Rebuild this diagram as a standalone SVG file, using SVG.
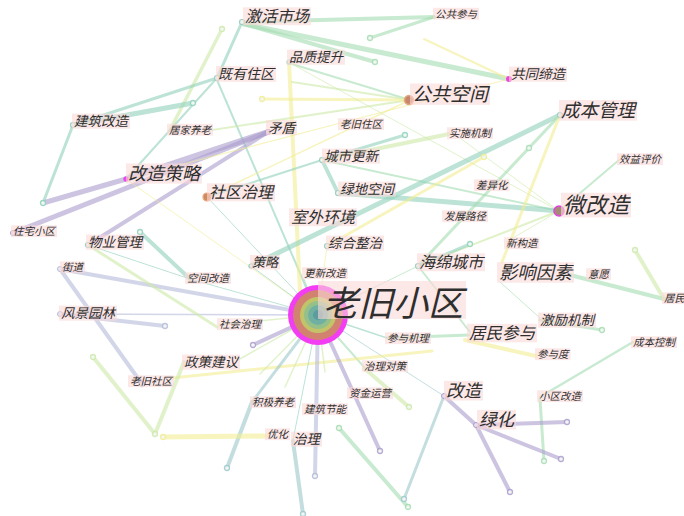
<svg xmlns="http://www.w3.org/2000/svg" width="684" height="516" viewBox="0 0 684 516">
<style>
.e{fill:none;stroke-linecap:round;stroke-opacity:.6}
.t{stroke:#8fd1bb}.g{stroke:#a4dcb0}.lg{stroke:#cde9a8}.y{stroke:#f1ec93}.p{stroke:#aa9ccd}.b{stroke:#b4bad8}.tb{stroke:#9cc8cc}
.ec{fill:#f2f7f4;stroke-width:1.3;stroke-opacity:.85}
.lb{fill:#fcd8d8;fill-opacity:.6}
.tx{font-family:"Noto Sans CJK SC","Noto Sans CJK JP",sans-serif;font-style:italic;fill:#2e2e2e}
.nd{fill:#eef6f2;stroke:#9fcfc0;stroke-width:1.2}
</style>
<rect width="684" height="516" fill="#ffffff"/>
<g id="edges">
<line class="e g" x1="242" y1="22" x2="434" y2="17" stroke-width="4"/>
<line class="e g" x1="244" y1="24" x2="509" y2="79" stroke-width="5"/>
<line class="e g" x1="244" y1="24" x2="375" y2="62" stroke-width="4"/>
<line class="e g" x1="434" y1="17" x2="370" y2="38" stroke-width="3"/>
<line class="e y" x1="509" y1="79" x2="424" y2="39" stroke-width="2"/>
<line class="e t" x1="242" y1="22" x2="217" y2="78" stroke-width="3"/>
<line class="e lg" x1="222" y1="29" x2="170" y2="130" stroke-width="3.5"/>
<line class="e t" x1="217" y1="78" x2="73" y2="125" stroke-width="3"/>
<line class="e t" x1="73" y1="125" x2="193" y2="103" stroke-width="5"/>
<line class="e t" x1="217" y1="78" x2="126" y2="179" stroke-width="2"/>
<line class="e t" x1="217" y1="80" x2="318" y2="315" stroke-width="2"/>
<line class="e t" x1="73" y1="125" x2="43" y2="203" stroke-width="3"/>
<line class="e p" x1="43" y1="203" x2="126" y2="179" stroke-width="5"/>
<line class="e p" x1="126" y1="179" x2="268" y2="132" stroke-width="6"/>
<line class="e p" x1="13" y1="233" x2="268" y2="132" stroke-width="5"/>
<line class="e p" x1="88" y1="245" x2="268" y2="132" stroke-width="4"/>
<line class="e lg" x1="212" y1="130" x2="410" y2="100" stroke-width="2"/>
<line class="e y" x1="289" y1="62" x2="300" y2="292" stroke-width="4"/>
<line class="e g" x1="292" y1="64" x2="410" y2="100" stroke-width="2"/>
<line class="e lg" x1="292" y1="82" x2="410" y2="100" stroke-width="2"/>
<line class="e y" x1="262" y1="99" x2="410" y2="100" stroke-width="3"/>
<line class="e y" x1="126" y1="179" x2="509" y2="79" stroke-width="1.2"/>
<line class="e y" x1="207" y1="197" x2="410" y2="100" stroke-width="1.5"/>
<line class="e lg" x1="292" y1="64" x2="559" y2="211" stroke-width="1"/>
<line class="e t" x1="322" y1="160" x2="405" y2="135" stroke-width="3"/>
<line class="e lg" x1="322" y1="160" x2="449" y2="134" stroke-width="4"/>
<line class="e t" x1="322" y1="160" x2="207" y2="197" stroke-width="2"/>
<line class="e t" x1="322" y1="160" x2="338" y2="193" stroke-width="4"/>
<line class="e g" x1="322" y1="160" x2="559" y2="211" stroke-width="2"/>
<line class="e t" x1="338" y1="193" x2="559" y2="211" stroke-width="5"/>
<line class="e lg" x1="460" y1="138" x2="559" y2="211" stroke-width="1"/>
<line class="e g" x1="619" y1="160" x2="559" y2="211" stroke-width="2"/>
<line class="e lg" x1="418" y1="266" x2="559" y2="211" stroke-width="2"/>
<line class="e y" x1="327" y1="246" x2="484" y2="157" stroke-width="3"/>
<line class="e t" x1="251" y1="266" x2="560" y2="115" stroke-width="5"/>
<line class="e g" x1="560" y1="115" x2="418" y2="266" stroke-width="3"/>
<line class="e y" x1="560" y1="115" x2="502" y2="262" stroke-width="3"/>
<line class="e lg" x1="506" y1="242" x2="559" y2="211" stroke-width="1"/>
<line class="e t" x1="418" y1="266" x2="470" y2="244" stroke-width="3"/>
<line class="e g" x1="418" y1="266" x2="470" y2="332" stroke-width="2"/>
<line class="e g" x1="418" y1="266" x2="318" y2="315" stroke-width="1"/>
<line class="e g" x1="570" y1="275" x2="664" y2="299" stroke-width="4"/>
<line class="e lg" x1="664" y1="299" x2="635" y2="250" stroke-width="4"/>
<line class="e g" x1="500" y1="282" x2="540" y2="318" stroke-width="1"/>
<line class="e g" x1="540" y1="320" x2="602" y2="330" stroke-width="3"/>
<line class="e g" x1="469" y1="335" x2="387" y2="338" stroke-width="3"/>
<line class="e y" x1="465" y1="340" x2="536" y2="356" stroke-width="4"/>
<line class="e t" x1="318" y1="315" x2="387" y2="338" stroke-width="1.5"/>
<line class="e g" x1="633" y1="342" x2="540" y2="397" stroke-width="2.5"/>
<line class="e g" x1="540" y1="399" x2="544" y2="461" stroke-width="3"/>
<line class="e tb" x1="318" y1="315" x2="444" y2="396" stroke-width="1"/>
<line class="e tb" x1="444" y1="396" x2="404" y2="499" stroke-width="3"/>
<line class="e p" x1="444" y1="396" x2="476" y2="425" stroke-width="4"/>
<line class="e p" x1="476" y1="425" x2="567" y2="422" stroke-width="4"/>
<line class="e p" x1="476" y1="425" x2="561" y2="459" stroke-width="4"/>
<line class="e p" x1="476" y1="425" x2="510" y2="492" stroke-width="4"/>
<line class="e g" x1="318" y1="315" x2="364" y2="367" stroke-width="2"/>
<line class="e lg" x1="364" y1="368" x2="409" y2="407" stroke-width="4"/>
<line class="e g" x1="339" y1="428" x2="408" y2="507" stroke-width="4"/>
<line class="e y" x1="172" y1="378" x2="432" y2="351" stroke-width="3"/>
<line class="e p" x1="318" y1="315" x2="380" y2="451" stroke-width="4"/>
<line class="e b" x1="318" y1="315" x2="315" y2="476" stroke-width="4"/>
<line class="e t" x1="318" y1="315" x2="293" y2="440" stroke-width="1"/>
<line class="e tb" x1="293" y1="441" x2="303" y2="514" stroke-width="4"/>
<line class="e tb" x1="318" y1="315" x2="252" y2="402" stroke-width="3"/>
<line class="e tb" x1="252" y1="402" x2="227" y2="468" stroke-width="4"/>
<line class="e y" x1="163" y1="437" x2="267" y2="436" stroke-width="5"/>
<line class="e lg" x1="184" y1="362" x2="155" y2="434" stroke-width="4"/>
<line class="e lg" x1="93" y1="357" x2="155" y2="434" stroke-width="4"/>
<line class="e lg" x1="238" y1="360" x2="318" y2="315" stroke-width="1.5"/>
<line class="e lg" x1="318" y1="315" x2="260" y2="374" stroke-width="1.5"/>
<line class="e lg" x1="318" y1="315" x2="285" y2="387" stroke-width="1.5"/>
<line class="e lg" x1="318" y1="315" x2="325" y2="372" stroke-width="1.5"/>
<line class="e p" x1="318" y1="315" x2="253" y2="345" stroke-width="4"/>
<line class="e b" x1="60" y1="269" x2="318" y2="315" stroke-width="4"/>
<line class="e b" x1="60" y1="269" x2="142" y2="384" stroke-width="4"/>
<line class="e b" x1="60" y1="314" x2="165" y2="326" stroke-width="4"/>
<line class="e b" x1="60" y1="314" x2="318" y2="315" stroke-width="1.5"/>
<line class="e lg" x1="88" y1="245" x2="217" y2="327" stroke-width="3"/>
<line class="e t" x1="88" y1="245" x2="190" y2="279" stroke-width="1"/>
<line class="e t" x1="140" y1="232" x2="190" y2="279" stroke-width="4"/>
<line class="e lg" x1="219" y1="325" x2="318" y2="315" stroke-width="1.5"/>
<line class="e t" x1="190" y1="279" x2="318" y2="315" stroke-width="1"/>
<line class="e t" x1="207" y1="197" x2="318" y2="315" stroke-width="1"/>
<line class="e y" x1="126" y1="179" x2="318" y2="315" stroke-width="1"/>
<line class="e t" x1="251" y1="266" x2="318" y2="315" stroke-width="1"/>
<line class="e y" x1="327" y1="246" x2="318" y2="315" stroke-width="1"/>
<line class="e g" x1="304" y1="279" x2="318" y2="315" stroke-width="1"/>
<circle class="ec g" cx="375" cy="62" r="2.5"/>
<circle class="ec g" cx="370" cy="38" r="2.5"/>
<circle class="ec lg" cx="222" cy="29" r="2.5"/>
<circle class="ec t" cx="193" cy="103" r="2.5"/>
<circle class="ec t" cx="43" cy="203" r="2.5"/>
<circle class="ec y" cx="262" cy="99" r="2.5"/>
<circle class="ec t" cx="405" cy="135" r="2.5"/>
<circle class="ec y" cx="484" cy="157" r="2.5"/>
<circle class="ec g" cx="529" cy="148" r="2.5"/>
<circle class="ec t" cx="470" cy="244" r="2.5"/>
<circle class="ec lg" cx="635" cy="250" r="2.5"/>
<circle class="ec g" cx="602" cy="330" r="2.5"/>
<circle class="ec g" cx="544" cy="461" r="2.5"/>
<circle class="ec tb" cx="404" cy="499" r="2.5"/>
<circle class="ec p" cx="567" cy="422" r="2.5"/>
<circle class="ec p" cx="561" cy="459" r="2.5"/>
<circle class="ec p" cx="510" cy="492" r="2.5"/>
<circle class="ec lg" cx="409" cy="407" r="2.5"/>
<circle class="ec g" cx="339" cy="428" r="2.5"/>
<circle class="ec g" cx="408" cy="507" r="2.5"/>
<circle class="ec p" cx="380" cy="451" r="2.5"/>
<circle class="ec b" cx="315" cy="476" r="2.5"/>
<circle class="ec tb" cx="303" cy="514" r="2.5"/>
<circle class="ec tb" cx="227" cy="468" r="2.5"/>
<circle class="ec y" cx="163" cy="437" r="2.5"/>
<circle class="ec lg" cx="155" cy="434" r="2.5"/>
<circle class="ec lg" cx="93" cy="357" r="2.5"/>
<circle class="ec p" cx="253" cy="345" r="2.5"/>
<circle class="ec b" cx="142" cy="384" r="2.5"/>
<circle class="ec b" cx="165" cy="326" r="2.5"/>
<circle class="ec t" cx="140" cy="232" r="2.5"/>
</g>
<g id="n-center">
<circle cx="318" cy="315" r="30" fill="#f23df2"/>
<circle cx="318" cy="315" r="25" fill="#d2836f"/>
<circle cx="318" cy="315" r="18" fill="#c3c46a"/>
<circle cx="318" cy="315" r="14" fill="#96c08a"/>
<circle cx="318" cy="315" r="10" fill="#6fb0a2"/>
<circle cx="318" cy="315" r="5" fill="#5c9c9c"/>
<rect class="lb" x="318" y="281" width="148" height="38"/>
<text class="tx" x="323" y="316" font-size="35">老旧小区</text>
</g>
<g id="n-jhsc"><circle class="nd" cx="242" cy="22" r="2.5"/><rect class="lb" x="243" y="7.3" width="68" height="17.9"/><text class="tx" x="245" y="22" font-size="16">激活市场</text></g>
<g id="n-ggcy"><rect class="lb" x="433" y="7.8" width="46" height="11.8"/><text class="tx" x="435" y="17.5" font-size="10.5">公共参与</text></g>
<g id="n-pzts"><circle class="nd" cx="289" cy="62" r="2"/><rect class="lb" x="287" y="49.6" width="58" height="15.1"/><text class="tx" x="289" y="62" font-size="13.5">品质提升</text></g>
<g id="n-jyzq"><circle class="nd" cx="217" cy="78" r="2.5"/><rect class="lb" x="216" y="66.1" width="60" height="15.7"/><text class="tx" x="218" y="79" font-size="14">既有住区</text></g>
<g id="n-gtdz"><circle cx="509" cy="79" r="3" fill="#ee44dd"/><rect class="lb" x="509" y="66.6" width="58" height="15.1"/><text class="tx" x="511" y="79" font-size="13.5">共同缔造</text></g>
<g id="n-ggkj"><circle cx="409" cy="100" r="4.5" fill="#c7866a" stroke="#e3a783" stroke-width="1.5"/><rect class="lb" x="410" y="83.5" width="80" height="21.3"/><text class="tx" x="412" y="101" font-size="19">公共空间</text></g>
<g id="n-cbgl"><circle class="nd" cx="560" cy="115" r="2.5"/><rect class="lb" x="559" y="100" width="78" height="20.7"/><text class="tx" x="561" y="117" font-size="18.5">成本管理</text></g>
<g id="n-jzgz"><circle class="nd" cx="73" cy="125" r="2.5"/><rect class="lb" x="72" y="113.6" width="58" height="15.1"/><text class="tx" x="74" y="126" font-size="13.5">建筑改造</text></g>
<g id="n-jjyl"><rect class="lb" x="167" y="123.8" width="46" height="11.8"/><text class="tx" x="169" y="133.5" font-size="10.5">居家养老</text></g>
<g id="n-md"><circle cx="268" cy="132" r="2.5" fill="#d8d0ea" stroke="#aa9ccd"/><rect class="lb" x="266" y="120.1" width="31" height="15.1"/><text class="tx" x="268" y="132.5" font-size="13.5">矛盾</text></g>
<g id="n-ljzq"><rect class="lb" x="338" y="118.3" width="46" height="11.8"/><text class="tx" x="340" y="128" font-size="10.5">老旧住区</text></g>
<g id="n-ssjz"><rect class="lb" x="447" y="127.3" width="46" height="11.8"/><text class="tx" x="449" y="137" font-size="10.5">实施机制</text></g>
<g id="n-csgx"><circle class="nd" cx="322" cy="160" r="2.5"/><rect class="lb" x="322" y="148.6" width="58" height="15.1"/><text class="tx" x="324" y="161" font-size="13.5">城市更新</text></g>
<g id="n-xypj"><rect class="lb" x="617" y="153.3" width="46" height="11.8"/><text class="tx" x="619" y="163" font-size="10.5">效益评价</text></g>
<g id="n-gzcl"><circle cx="126" cy="179" r="2.5" fill="#ee44ee"/><rect class="lb" x="126" y="163.4" width="76" height="20.2"/><text class="tx" x="128" y="180" font-size="18">改造策略</text></g>
<g id="n-cyh"><rect class="lb" x="474" y="179.3" width="35.5" height="11.8"/><text class="tx" x="476" y="189" font-size="10.5">差异化</text></g>
<g id="n-ldkj"><circle class="nd" cx="338" cy="193" r="2.5"/><rect class="lb" x="338" y="181.6" width="58" height="15.1"/><text class="tx" x="340" y="194" font-size="13.5">绿地空间</text></g>
<g id="n-sqzl"><circle cx="207" cy="197" r="4" fill="#d08a60" stroke="#e8a880" stroke-width="1.2"/><rect class="lb" x="207" y="183.3" width="68" height="17.9"/><text class="tx" x="209" y="198" font-size="16">社区治理</text></g>
<g id="n-wgz"><circle cx="559" cy="211" r="5" fill="#a88878" stroke="#e040e0" stroke-width="1.5"/><rect class="lb" x="561" y="192.8" width="70" height="24.6"/><text class="tx" x="563" y="213" font-size="22">微改造</text></g>
<g id="n-swhj"><rect class="lb" x="289" y="208.3" width="68" height="17.9"/><text class="tx" x="291" y="223" font-size="16">室外环境</text></g>
<g id="n-fzlj"><rect class="lb" x="442" y="210.3" width="46" height="11.8"/><text class="tx" x="444" y="220" font-size="10.5">发展路径</text></g>
<g id="n-zzxq"><circle cx="13" cy="233" r="2.5" fill="#e4e0f0" stroke="#aa9ccd"/><rect class="lb" x="11" y="225.3" width="46" height="11.8"/><text class="tx" x="13" y="235" font-size="10.5">住宅小区</text></g>
<g id="n-zhzz"><circle class="nd" cx="327" cy="246" r="2.5"/><rect class="lb" x="326" y="235.6" width="58" height="15.1"/><text class="tx" x="328" y="248" font-size="13.5">综合整治</text></g>
<g id="n-wygl"><circle class="nd" cx="88" cy="245" r="2.5"/><rect class="lb" x="86" y="234.6" width="58" height="15.1"/><text class="tx" x="88" y="247" font-size="13.5">物业管理</text></g>
<g id="n-xgz"><rect class="lb" x="504" y="237.3" width="35.5" height="11.8"/><text class="tx" x="506" y="247" font-size="10.5">新构造</text></g>
<g id="n-hmcs"><circle class="nd" cx="418" cy="266" r="2.5"/><rect class="lb" x="417" y="253.3" width="68" height="17.9"/><text class="tx" x="419" y="268" font-size="16">海绵城市</text></g>
<g id="n-cl"><circle class="nd" cx="251" cy="266" r="2"/><rect class="lb" x="250" y="255" width="30" height="14.6"/><text class="tx" x="252" y="267" font-size="13">策略</text></g>
<g id="n-yxys"><rect class="lb" x="497" y="262.2" width="77" height="20.5"/><text class="tx" x="499" y="279" font-size="18.3">影响因素</text></g>
<g id="n-jd"><circle cx="60" cy="269" r="2.5" fill="#e8eaf4" stroke="#b4bad8"/><rect class="lb" x="60" y="261.3" width="25" height="11.8"/><text class="tx" x="62" y="271" font-size="10.5">街道</text></g>
<g id="n-yy"><rect class="lb" x="586" y="268.3" width="25" height="11.8"/><text class="tx" x="588" y="278" font-size="10.5">意愿</text></g>
<g id="n-kjgz"><rect class="lb" x="185" y="272.3" width="46" height="11.8"/><text class="tx" x="187" y="282" font-size="10.5">空间改造</text></g>
<g id="n-gxgz"><rect class="lb" x="302" y="267.3" width="46" height="11.8"/><text class="tx" x="304" y="277" font-size="10.5">更新改造</text></g>
<g id="n-jm"><rect class="lb" x="662" y="292.3" width="25" height="11.8"/><text class="tx" x="664" y="302" font-size="10.5">居民</text></g>
<g id="n-fjyl"><circle cx="60" cy="314" r="2.5" fill="#e8eaf4" stroke="#b4bad8"/><rect class="lb" x="59" y="305.6" width="58" height="15.1"/><text class="tx" x="61" y="318" font-size="13.5">风景园林</text></g>
<g id="n-jljz"><rect class="lb" x="538" y="312.6" width="58" height="15.1"/><text class="tx" x="540" y="325" font-size="13.5">激励机制</text></g>
<g id="n-shzl"><rect class="lb" x="217" y="318.3" width="46" height="11.8"/><text class="tx" x="219" y="328" font-size="10.5">社会治理</text></g>
<g id="n-jmcy"><rect class="lb" x="467" y="323.8" width="70" height="18.5"/><text class="tx" x="469" y="339" font-size="16.5">居民参与</text></g>
<g id="n-cyjl"><rect class="lb" x="385" y="332.3" width="46" height="11.8"/><text class="tx" x="387" y="342" font-size="10.5">参与机理</text></g>
<g id="n-cbkz"><rect class="lb" x="631" y="336.3" width="46" height="11.8"/><text class="tx" x="633" y="346" font-size="10.5">成本控制</text></g>
<g id="n-zcjy"><rect class="lb" x="182" y="354.6" width="58" height="15.1"/><text class="tx" x="184" y="367" font-size="13.5">政策建议</text></g>
<g id="n-cyd"><rect class="lb" x="535" y="348.3" width="35.5" height="11.8"/><text class="tx" x="537" y="358" font-size="10.5">参与度</text></g>
<g id="n-zldc"><rect class="lb" x="362" y="360.3" width="46" height="11.8"/><text class="tx" x="364" y="370" font-size="10.5">治理对策</text></g>
<g id="n-ljsq"><rect class="lb" x="128" y="375.3" width="46" height="11.8"/><text class="tx" x="130" y="385" font-size="10.5">老旧社区</text></g>
<g id="n-gz"><circle cx="444" cy="396" r="2.5" fill="#e4e0f0" stroke="#aa9ccd"/><rect class="lb" x="444" y="380.9" width="39" height="19.6"/><text class="tx" x="446" y="397" font-size="17.5">改造</text></g>
<g id="n-zjyy"><rect class="lb" x="347" y="387.3" width="46" height="11.8"/><text class="tx" x="349" y="397" font-size="10.5">资金运营</text></g>
<g id="n-xqgz"><rect class="lb" x="537" y="390.3" width="46" height="11.8"/><text class="tx" x="539" y="400" font-size="10.5">小区改造</text></g>
<g id="n-jjyl2"><rect class="lb" x="250" y="396.3" width="46" height="11.8"/><text class="tx" x="252" y="406" font-size="10.5">积极养老</text></g>
<g id="n-jzjn"><rect class="lb" x="302" y="403.3" width="46" height="11.8"/><text class="tx" x="304" y="413" font-size="10.5">建筑节能</text></g>
<g id="n-lh"><circle cx="476" cy="425" r="2.5" fill="#e4e0f0" stroke="#aa9ccd"/><rect class="lb" x="477" y="409.9" width="39" height="19.6"/><text class="tx" x="479" y="426" font-size="17.5">绿化</text></g>
<g id="n-yh"><rect class="lb" x="265" y="428.3" width="25" height="11.8"/><text class="tx" x="267" y="438" font-size="10.5">优化</text></g>
<g id="n-zl"><rect class="lb" x="291" y="431.6" width="31" height="15.1"/><text class="tx" x="293" y="444" font-size="13.5">治理</text></g>
</svg>
